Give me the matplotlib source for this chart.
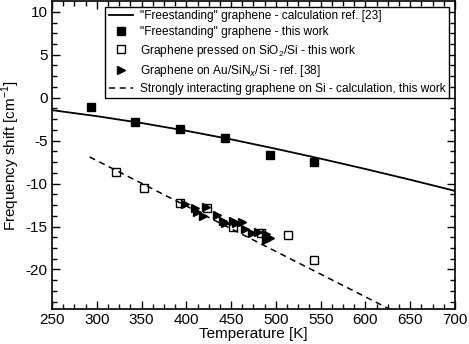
import matplotlib
matplotlib.use("Agg")
import matplotlib.pyplot as plt
from matplotlib.ticker import MultipleLocator

plt.rcParams['font.family'] = ['Liberation Sans', 'DejaVu Sans']
plt.rcParams['axes.unicode_minus'] = False
plt.rcParams['mathtext.fontset'] = 'custom'
plt.rcParams['mathtext.rm'] = 'Liberation Sans'

# "Freestanding" graphene - calculation ref. [23]
calc_T = [250, 300, 350, 400, 450, 500, 550, 600, 650, 700]
calc_shift = [-1.45, -2.15, -2.95, -3.85, -4.85, -5.95, -7.1, -8.3, -9.55, -10.85]

# "Freestanding" graphene - this work
free_T = [293, 343, 393, 443, 493, 543]
free_shift = [-1.13, -2.88, -3.69, -4.70, -6.68, -7.50]

# Graphene pressed on SiO2/Si - this work
sio2_T = [322, 353, 393, 423, 452, 483, 513, 543]
sio2_shift = [-8.7, -10.5, -12.3, -12.8, -15.1, -15.7, -16.0, -18.9]

# Graphene on Au/SiNx/Si - ref. [38]
au_T = [398.5, 409.7, 411.9, 418.6, 422, 434.2, 440.9, 443.2, 452.1, 455.5,
        462.1, 465.5, 473.3, 480, 489, 489, 493.4]
au_shift = [-12.4, -12.8, -13.35, -13.8, -12.7, -13.6, -14.3, -14.6, -14.4, -14.6,
            -14.5, -15.3, -15.7, -15.6, -15.9, -16.6, -16.3]

# Strongly interacting graphene on Si - calculation, this work
si_T = [292, 640]
si_shift = [-6.9, -25.3]

fig = plt.figure(figsize=(4.69, 3.44), dpi=100)
ax = fig.add_axes([0.1109, 0.1017, 0.8592, 0.894])

ax.plot(calc_T, calc_shift, '-', color='black', lw=1.3,
        label='"Freestanding" graphene - calculation ref. [23]')
ax.plot(free_T, free_shift, 's', color='black', ms=5.5, ls='none',
        label='"Freestanding" graphene - this work')
ax.plot(sio2_T, sio2_shift, 's', mfc='white', mec='black', mew=1.0, ms=5.5, ls='none',
        label='Graphene pressed on SiO$_2$/Si - this work')
ax.plot(au_T, au_shift, '>', color='black', ms=5.5, ls='none',
        label='Graphene on Au/SiN$_x$/Si - ref. [38]')
ax.plot(si_T, si_shift, '--', color='black', lw=1.1, dashes=(4, 3),
        label='Strongly interacting graphene on Si - calculation, this work')

ax.set_xlim(250, 700)
ax.set_ylim(-24.6, 11.2)
ax.xaxis.set_major_locator(MultipleLocator(50))
ax.xaxis.set_minor_locator(MultipleLocator(12.5))
ax.yaxis.set_major_locator(MultipleLocator(5))
ax.yaxis.set_minor_locator(MultipleLocator(1.25))
ax.tick_params(which='both', direction='in', top=True, right=True, labelsize=11)
ax.tick_params(which='major', length=6, width=1, pad=3)
ax.tick_params(which='minor', length=3.5, width=1)
for s in ax.spines.values():
    s.set_linewidth(1.2)

ax.set_xlabel('Temperature [K]', fontsize=11, labelpad=0)
ax.set_ylabel('Frequency shift [cm$^{-1}$]', fontsize=11, labelpad=3)

leg = ax.legend(loc='upper right', fontsize=8.6, frameon=True, fancybox=False,
                edgecolor='black', framealpha=1, borderpad=0.3, labelspacing=0.35,
                handlelength=2.0, handletextpad=0.6, borderaxespad=0.3,
                bbox_to_anchor=(0.995, 0.995))
leg.get_frame().set_linewidth(1.0)

fig.savefig('out.png', dpi=100)
